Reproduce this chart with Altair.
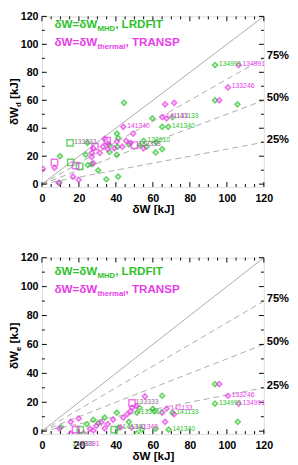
import altair as alt
import pandas as pd

FONT = "Liberation Sans"
GREEN = "#2ec22e"
MAGENTA = "#e83ce8"
GRAYLBL = "#8f6f8f"
LINE_GRAY = "#aaaaaa"

W = 229
H_TOP = 176
H_BOT = 182
X_DOMAIN = [0, 120]
Y_DOMAIN = [-2, 120]
MAJOR = [0, 20, 40, 60, 80, 100, 120]
X_TICKS = list(range(0, 121, 5))
Y_TICKS = list(range(0, 121, 10))

# reference lines y = r * dW
RATIOS = [1.0, 0.75, 0.5, 0.25]
PCT_RATIOS = [0.75, 0.5, 0.25]
PCT_LABELS = ["75%", "50%", "25%"]

# ---------------- top panel: dW_d vs dW ----------------
top_lrd_x = [93.6, 93.6, 105.7, 70.6, 59.7, 44.4, 65.0, 68.3, 55.0, 61.8, 61.5, 65.0, 53.0, 56.6,
             40.5, 41.2, 24.6, 36.5, 40.9, 36.5, 40.5, 23.7, 9.8, 24.8, 26.9, 30.4, 34.8, 41.2, 9.4, 47.0]
top_lrd_y = [85.2, 60.0, 57.1, 48.0, 47.0, 58.2, 41.0, 41.0, 31.0, 30.0, 22.7, 25.0, 27.8, 26.8,
             36.2, 33.0, 29.5, 27.9, 26.8, 23.0, 21.0, 21.1, 20.0, 13.7, 14.4, 9.9, 3.5, 5.4, 1.0, 28.5]
top_lrd_lab = ["134991", "", "", "141133", "", "", "", "141340", "133610", "", "", "", "", "",
               "", "", "", "", "", "", "", "", "", "", "", "", "", "", "", ""]
top_lrd_sq_x = [15.2, 15.6, 20.4]
top_lrd_sq_y = [29.5, 15.5, 12.8]
top_lrd_sq_lab = ["133333", "", ""]

top_trp_x = [106.4, 100.6, 95.9, 66.6, 71.5, 65.0, 67.4, 44.0, 49.3, 33.9, 35.6, 33.0, 27.8, 31.3,
             26.9, 35.6, 39.1, 43.5, 47.9, 54.9, 27.8, 26.9, 6.8, 16.8, 19.9, 9.1, 0.5, 40.5, 45.5]
top_trp_y = [85.2, 69.2, 60.0, 57.1, 58.2, 48.0, 47.0, 41.0, 36.2, 32.4, 29.0, 26.8, 25.6, 22.3,
             22.3, 25.0, 25.6, 26.8, 29.5, 25.6, 15.0, 19.5, 11.7, 5.4, 3.1, 0.9, 11.0, 30.5, 31.0]
top_trp_lab = ["134991", "133246", "", "", "", "141133", "", "141340", "", "", "", "", "", "",
               "", "", "", "", "", "", "", "", "", "", "", "", "", "", ""]
top_trp_sq_x = [6.8, 18.2, 28.7, 35.3, 50.0]
top_trp_sq_y = [15.5, 13.2, 26.8, 31.2, 28.0]
top_trp_sq_lab = ["", "", "", "", "133333"]

# ---------------- bottom panel: dW_e vs dW ----------------
bot_lrd_x = [93.6, 93.6, 65.0, 105.9, 70.6, 60.0, 61.0, 61.5, 68.5, 52.8, 51.4, 40.5, 33.9, 27.8,
             30.4, 24.3, 47.0, 54.0, 51.4, 10.3, 41.5, 14.2]
bot_lrd_y = [32.6, 19.1, 24.5, 6.5, 12.8, 15.5, 13.9, 1.6, 1.1, 16.2, 12.8, 12.8, 9.4, 7.9,
             5.6, 4.9, 6.5, 1.1, -1.5, 2.7, 2.5, -9.4]
bot_lrd_lab = ["", "134991", "", "", "141133", "", "", "", "141340", "", "133610", "", "", "",
               "", "", "", "", "", "", "141340", "133391"]
bot_lrd_sq_x = [20.8, 39.1]
bot_lrd_sq_y = [1.1, 1.1]
bot_lrd_sq_lab = ["", ""]

bot_trp_x = [95.9, 100.6, 106.4, 66.6, 67.4, 65.0, 71.5, 55.7, 51.0, 48.7, 47.9, 46.1, 44.0, 42.6,
             35.6, 33.9, 32.1, 29.5, 26.0, 27.8, 19.9, 15.6, 9.4, 15.6, 22.5, 48.5, 38.5, 16.8]
bot_trp_y = [32.6, 24.5, 19.1, 6.5, 15.5, 12.8, 11.7, 24.0, 17.3, 16.2, 13.9, 11.7, 9.4, 2.7,
             4.9, 2.0, 6.1, 3.8, 1.6, 0.5, 8.8, 6.5, 2.0, -1.5, -1.5, 2.5, 8.0, -9.4]
bot_trp_lab = ["", "133246", "134991", "", "141133", "", "", "", "", "", "", "", "", "",
               "", "", "", "", "", "", "", "", "", "", "", "141340", "", "133391"]
bot_trp_sq_x = [18.2, 48.7]
bot_trp_sq_y = [1.1, 19.6]
bot_trp_sq_lab = ["", "133333"]

# Arial/Liberation bold advance widths (em) for placing annotation segments
CW = {'δ': 0.611, 'W': 0.944, '=': 0.584, 'M': 0.833, 'H': 0.722, 'D': 0.722, ',': 0.278,
      ' ': 0.278, 'L': 0.611, 'R': 0.722, 'F': 0.611, 'I': 0.278, 'T': 0.611, 't': 0.333,
      'h': 0.611, 'e': 0.556, 'r': 0.389, 'm': 0.889, 'a': 0.556, 'l': 0.278, 'A': 0.722,
      'N': 0.722, 'S': 0.667, 'P': 0.667, '[': 0.333, ']': 0.333, 'k': 0.556, 'J': 0.556,
      'd': 0.611}


def width_of(s, size):
    return sum(CW.get(c, 0.556) for c in s) * size


def text_segments(segs, x0, y0, color, vertical=False):
    layers = []
    pos = 0.0
    for txt, size, shift in segs:
        stripped = txt.lstrip(" ")
        lead = width_of(txt[: len(txt) - len(stripped)], size)
        p = pos + lead
        if vertical:
            xv, yv = x0 + shift, y0 - p
        else:
            xv, yv = x0 + p, y0 + shift
        kw = dict(text=stripped, align="left", baseline="alphabetic", font=FONT,
                  fontSize=size, fontWeight="bold", color=color)
        if vertical:
            kw["angle"] = 270
        layers.append(
            alt.Chart(alt.Data(values=[{}])).mark_text(**kw).encode(
                x=alt.value(xv), y=alt.value(yv)
            )
        )
        pos += width_of(txt, size)
    return layers


def build_points(defs):
    rows = []
    for kind, marker, xs, ys, labs in defs:
        for x, y, lab in zip(xs, ys, labs):
            if lab and marker == "square":
                lc = GRAYLBL
            else:
                lc = GREEN if kind == "LRDFIT" else MAGENTA
            rows.append({"x": x, "y": y, "kind": kind, "marker": marker, "label": lab, "lc": lc})
    return pd.DataFrame(rows)


def tick_layers(xs, ys, h):
    """Inward-pointing box ticks on all four sides, positioned by the scales."""
    xt = pd.DataFrame({"v": X_TICKS})
    yt = pd.DataFrame({"v": Y_TICKS})
    layers = []
    for major, ln in ((True, 5), (False, 3)):
        test = "datum.v % 20 === 0" if major else "datum.v % 20 !== 0"
        bx = alt.Chart(xt).transform_filter(test).mark_rule(color="black", strokeWidth=1)
        by = alt.Chart(yt).transform_filter(test).mark_rule(color="black", strokeWidth=1)
        xenc = alt.X("v:Q", scale=xs, axis=None)
        yenc = alt.Y("v:Q", scale=ys, axis=None)
        layers.append(bx.encode(x=xenc, y=alt.value(h), y2=alt.value(h - ln)))
        layers.append(bx.encode(x=xenc, y=alt.value(0), y2=alt.value(ln)))
        layers.append(by.encode(y=yenc, x=alt.value(0), x2=alt.value(ln)))
        layers.append(by.encode(y=yenc, x=alt.value(W), x2=alt.value(W - ln)))
    return layers


def panel(pts, h, sub, leg_base):
    xs = alt.Scale(domain=X_DOMAIN, nice=False, zero=False)
    ys = alt.Scale(domain=Y_DOMAIN, nice=False, zero=False)
    x_lab = alt.Axis(orient="bottom", values=MAJOR, ticks=False, tickSize=0, domain=False,
                     grid=False, labelFont=FONT, labelFontSize=11, labelFontWeight="bold",
                     labelColor="black", labelPadding=6, labelFlush=False, labelOverlap=False,
                     title="δW [kJ]", titleFont=FONT, titleFontSize=12, titleFontWeight="bold",
                     titleColor="black", titlePadding=0)
    y_lab = alt.Axis(orient="left", values=MAJOR, ticks=False, tickSize=0, domain=False,
                     grid=False, labelFont=FONT, labelFontSize=11, labelFontWeight="bold",
                     labelColor="black", labelPadding=4, labelFlush=False, labelOverlap=False,
                     title=None)

    line_df = pd.DataFrame([{"r": r, "x": x} for r in RATIOS for x in X_DOMAIN])
    base_line = alt.Chart(line_df).transform_calculate(y="datum.r * datum.x")
    solid = base_line.transform_filter("datum.r == 1").mark_line(
        color=LINE_GRAY, strokeWidth=1, clip=True
    ).encode(x=alt.X("x:Q", scale=xs, axis=x_lab), y=alt.Y("y:Q", scale=ys, axis=y_lab))
    dashed = base_line.transform_filter("datum.r < 1").mark_line(
        color=LINE_GRAY, strokeWidth=1, strokeDash=[6, 4], clip=True
    ).encode(x=alt.X("x:Q", scale=xs, axis=None),
             y=alt.Y("y:Q", scale=ys, axis=None), detail="r:N")

    pct_df = pd.DataFrame({"r": PCT_RATIOS, "lab": PCT_LABELS, "xr": [X_DOMAIN[1]] * 3})
    pct = alt.Chart(pct_df).transform_calculate(y="datum.r * datum.xr").mark_text(
        align="left", baseline="middle", dx=3, dy=-2, font=FONT, fontSize=11.5,
        fontWeight="bold", color="black", clip=False
    ).encode(x=alt.X("xr:Q", scale=xs, axis=None), y=alt.Y("y:Q", scale=ys, axis=None),
             text="lab:N")

    base = alt.Chart(pts)
    g_pts = base.transform_filter("datum.kind == 'LRDFIT' && datum.marker == 'diamond'").mark_point(
        shape="diamond", filled=False, strokeWidth=1.8, size=24, color=GREEN, clip=True
    ).encode(x=alt.X("x:Q", scale=xs, axis=None), y=alt.Y("y:Q", scale=ys, axis=None))
    m_pts = base.transform_filter("datum.kind == 'TRANSP' && datum.marker == 'diamond'").mark_point(
        shape="diamond", filled=False, strokeWidth=1.8, size=24, color=MAGENTA, clip=True
    ).encode(x=alt.X("x:Q", scale=xs, axis=None), y=alt.Y("y:Q", scale=ys, axis=None))
    sq = base.transform_filter("datum.marker == 'square'").mark_point(
        shape="square", filled=False, strokeWidth=1.5, size=42, clip=True
    ).encode(x=alt.X("x:Q", scale=xs, axis=None), y=alt.Y("y:Q", scale=ys, axis=None),
             color=alt.Color("kind:N", scale=alt.Scale(domain=["LRDFIT", "TRANSP"],
                                                      range=[GREEN, MAGENTA]), legend=None))
    labels = base.transform_filter("datum.label != ''").mark_text(
        align="left", baseline="middle", dx=4, dy=-1, font=FONT, fontSize=7, clip=False
    ).encode(x=alt.X("x:Q", scale=xs, axis=None), y=alt.Y("y:Q", scale=ys, axis=None),
             text="label:N", color=alt.Color("lc:N", scale=None))

    leg1 = text_segments([("δW=δW", 12, 0), ("MHD", 8, 3), (", LRDFIT", 12, 0)],
                         13, leg_base[0], GREEN)
    leg2 = text_segments([("δW=δW", 12, 0), ("thermal", 8, 3), (", TRANSP", 12, 0)],
                         13, leg_base[1], MAGENTA)
    ttl_segs = [("δW", 12, 0), (sub, 8, 3), (" [kJ]", 12, 0)]
    total = sum(width_of(t, s) for t, s, _ in ttl_segs)
    ytitle = text_segments(ttl_segs, -24.4, h / 2 + total / 2, "black", vertical=True)

    layers = [solid, dashed] + tick_layers(xs, ys, h) + [pct, g_pts, m_pts, sq, labels] \
        + leg1 + leg2 + ytitle
    return alt.layer(*layers).resolve_axis(x="independent", y="independent").properties(
        width=W, height=h
    )


top_pts = build_points([
    ("LRDFIT", "diamond", top_lrd_x, top_lrd_y, top_lrd_lab),
    ("TRANSP", "diamond", top_trp_x, top_trp_y, top_trp_lab),
    ("LRDFIT", "square", top_lrd_sq_x, top_lrd_sq_y, top_lrd_sq_lab),
    ("TRANSP", "square", top_trp_sq_x, top_trp_sq_y, top_trp_sq_lab),
])
bot_pts = build_points([
    ("LRDFIT", "diamond", bot_lrd_x, bot_lrd_y, bot_lrd_lab),
    ("TRANSP", "diamond", bot_trp_x, bot_trp_y, bot_trp_lab),
    ("LRDFIT", "square", bot_lrd_sq_x, bot_lrd_sq_y, bot_lrd_sq_lab),
    ("TRANSP", "square", bot_trp_sq_x, bot_trp_sq_y, bot_trp_sq_lab),
])

top = panel(top_pts, H_TOP, "d", (12.3, 30.3))
bottom = panel(bot_pts, H_BOT, "e", (18.3, 36.8))

chart = alt.vconcat(top, bottom, spacing=37).properties(
    padding={"left": 0, "top": -5.7, "right": 0, "bottom": 0}
).configure_view(stroke="black", strokeWidth=1).configure(background="white")

chart.save("out.html", embed_options={"renderer": "svg", "actions": False})
